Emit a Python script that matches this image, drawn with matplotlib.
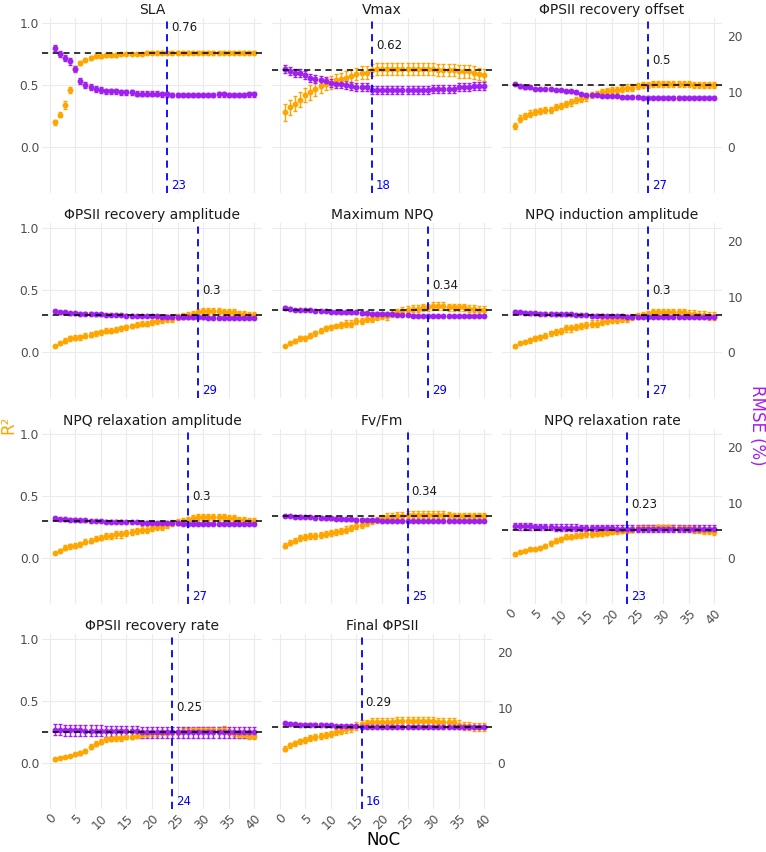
import numpy as np
import matplotlib
matplotlib.use("Agg")
import matplotlib.pyplot as plt

# facet titles, chosen NoC and reference R2 per trait
traits = ["SLA", "Vmax", "ΦPSII recovery offset",
          "ΦPSII recovery amplitude", "Maximum NPQ", "NPQ induction amplitude",
          "NPQ relaxation amplitude", "Fv/Fm", "NPQ relaxation rate",
          "ΦPSII recovery rate", "Final ΦPSII"]
best_noc = [23, 18, 27, 29, 29, 27, 27, 25, 23, 24, 16]
best_r2 = [0.76, 0.62, 0.5, 0.3, 0.34, 0.3, 0.3, 0.34, 0.23, 0.25, 0.29]

noc = list(range(1, 41))

r2_sla = [0.20, 0.26, 0.34, 0.46, 0.63, 0.68, 0.70, 0.72, 0.73, 0.73,
          0.74, 0.74, 0.74, 0.75, 0.75, 0.75, 0.75, 0.75, 0.76, 0.76,
          0.76, 0.76, 0.76, 0.76, 0.76, 0.76, 0.76, 0.76, 0.76, 0.76,
          0.76, 0.76, 0.76, 0.76, 0.76, 0.76, 0.76, 0.76, 0.76, 0.76]
r2e_sla = [0.02, 0.02, 0.03, 0.025, 0.02, 0.015, 0.015, 0.015, 0.015, 0.015,
           0.012, 0.012, 0.012, 0.012, 0.012, 0.012, 0.012, 0.012, 0.012, 0.012,
           0.012, 0.012, 0.012, 0.012, 0.012, 0.012, 0.012, 0.012, 0.012, 0.012,
           0.012, 0.012, 0.012, 0.012, 0.012, 0.012, 0.012, 0.012, 0.012, 0.012]
rmse_sla = [17.9, 16.8, 16.1, 15.5, 14.1, 11.9, 11.2, 10.8, 10.5, 10.3,
            10.1, 10.1, 10.1, 9.9, 9.9, 9.9, 9.6, 9.6, 9.6, 9.6,
            9.6, 9.5, 9.5, 9.4, 9.4, 9.4, 9.4, 9.4, 9.4, 9.4,
            9.4, 9.4, 9.5, 9.5, 9.4, 9.4, 9.4, 9.4, 9.5, 9.5]
rmsee_sla = [0.6, 0.6, 0.6, 0.6, 0.6, 0.5, 0.5, 0.5, 0.5, 0.5,
             0.45, 0.45, 0.45, 0.45, 0.45, 0.45, 0.45, 0.45, 0.45, 0.45,
             0.45, 0.45, 0.45, 0.45, 0.45, 0.45, 0.45, 0.45, 0.45, 0.45,
             0.45, 0.45, 0.45, 0.45, 0.45, 0.45, 0.45, 0.45, 0.45, 0.45]

r2_vmax = [0.28, 0.32, 0.35, 0.38, 0.42, 0.44, 0.47, 0.49, 0.51, 0.52,
           0.54, 0.55, 0.56, 0.57, 0.59, 0.60, 0.60, 0.62, 0.63, 0.63,
           0.63, 0.63, 0.63, 0.63, 0.63, 0.63, 0.63, 0.63, 0.63, 0.63,
           0.62, 0.62, 0.62, 0.62, 0.61, 0.61, 0.61, 0.60, 0.59, 0.58]
r2e_vmax = [0.07, 0.06, 0.06, 0.06, 0.06, 0.06, 0.055, 0.055, 0.05, 0.05,
            0.05, 0.05, 0.05, 0.05, 0.05, 0.05, 0.05, 0.05, 0.05, 0.05,
            0.05, 0.05, 0.05, 0.05, 0.05, 0.05, 0.05, 0.05, 0.05, 0.05,
            0.05, 0.05, 0.05, 0.05, 0.05, 0.05, 0.05, 0.05, 0.05, 0.05]
rmse_vmax = [14.1, 13.7, 13.4, 13.4, 13.0, 12.5, 12.3, 12.1, 11.9, 11.6,
             11.4, 11.4, 11.2, 11.0, 10.8, 10.8, 10.8, 10.3, 10.3, 10.3,
             10.3, 10.3, 10.3, 10.3, 10.3, 10.3, 10.3, 10.3, 10.3, 10.5,
             10.5, 10.5, 10.5, 10.5, 10.8, 10.8, 10.8, 11.0, 11.0, 11.0]
rmsee_vmax = [0.7, 0.7, 0.7, 0.7, 0.7, 0.7, 0.7, 0.7, 0.7, 0.7,
              0.7, 0.7, 0.7, 0.7, 0.7, 0.7, 0.7, 0.7, 0.7, 0.7,
              0.7, 0.7, 0.7, 0.7, 0.7, 0.7, 0.7, 0.7, 0.7, 0.7,
              0.7, 0.7, 0.7, 0.7, 0.7, 0.7, 0.7, 0.7, 0.7, 0.7]

r2_offset = [0.17, 0.23, 0.25, 0.27, 0.28, 0.29, 0.30, 0.30, 0.32, 0.33,
             0.35, 0.36, 0.38, 0.39, 0.40, 0.42, 0.43, 0.44, 0.45, 0.46,
             0.46, 0.47, 0.48, 0.48, 0.49, 0.50, 0.50, 0.51, 0.51, 0.51,
             0.51, 0.51, 0.51, 0.51, 0.51, 0.50, 0.50, 0.50, 0.50, 0.50]
r2e_offset = [0.025, 0.025, 0.025, 0.025, 0.025, 0.025, 0.025, 0.025, 0.025, 0.025,
              0.025, 0.025, 0.025, 0.025, 0.025, 0.025, 0.025, 0.025, 0.025, 0.025,
              0.025, 0.025, 0.025, 0.025, 0.025, 0.025, 0.025, 0.025, 0.025, 0.025,
              0.025, 0.025, 0.025, 0.025, 0.025, 0.025, 0.025, 0.025, 0.025, 0.025]
rmse_offset = [11.4, 11.0, 10.8, 10.8, 10.5, 10.5, 10.5, 10.5, 10.3, 10.3,
               10.1, 10.1, 9.9, 9.6, 9.4, 9.4, 9.4, 9.2, 9.2, 9.2,
               9.2, 9.0, 9.0, 9.0, 9.0, 8.9, 8.9, 8.9, 8.9, 8.9,
               8.9, 8.9, 8.9, 8.9, 8.9, 8.9, 8.9, 8.9, 8.9, 8.9]
rmsee_offset = [0.25, 0.25, 0.25, 0.25, 0.25, 0.25, 0.25, 0.25, 0.25, 0.25,
                0.25, 0.25, 0.25, 0.25, 0.25, 0.25, 0.25, 0.25, 0.25, 0.25,
                0.25, 0.25, 0.25, 0.25, 0.25, 0.25, 0.25, 0.25, 0.25, 0.25,
                0.25, 0.25, 0.25, 0.25, 0.25, 0.25, 0.25, 0.25, 0.25, 0.25]

r2_recamp = [0.05, 0.07, 0.09, 0.11, 0.115, 0.12, 0.13, 0.14, 0.15, 0.16,
             0.17, 0.17, 0.18, 0.19, 0.20, 0.21, 0.22, 0.23, 0.23, 0.24,
             0.25, 0.26, 0.27, 0.27, 0.28, 0.29, 0.30, 0.31, 0.32, 0.33,
             0.33, 0.33, 0.33, 0.32, 0.32, 0.32, 0.31, 0.31, 0.30, 0.30]
r2e_recamp = [0.01, 0.015, 0.02, 0.02, 0.02, 0.02, 0.02, 0.02, 0.02, 0.02,
              0.02, 0.02, 0.02, 0.02, 0.02, 0.02, 0.02, 0.02, 0.02, 0.02,
              0.025, 0.025, 0.025, 0.025, 0.025, 0.025, 0.025, 0.025, 0.025, 0.025,
              0.025, 0.025, 0.025, 0.025, 0.025, 0.025, 0.025, 0.025, 0.025, 0.025]
rmse_recamp = [7.4, 7.2, 7.2, 7.0, 7.0, 6.9, 6.9, 6.9, 6.8, 6.8,
               6.7, 6.7, 6.7, 6.7, 6.6, 6.6, 6.5, 6.5, 6.5, 6.5,
               6.5, 6.4, 6.4, 6.4, 6.3, 6.3, 6.3, 6.3, 6.3, 6.3,
               6.2, 6.2, 6.2, 6.2, 6.2, 6.2, 6.2, 6.2, 6.2, 6.2]
rmsee_recamp = [0.25, 0.25, 0.25, 0.25, 0.25, 0.25, 0.25, 0.25, 0.25, 0.25,
                0.25, 0.25, 0.25, 0.25, 0.25, 0.25, 0.25, 0.25, 0.25, 0.25,
                0.25, 0.25, 0.25, 0.25, 0.25, 0.25, 0.25, 0.25, 0.25, 0.25,
                0.25, 0.25, 0.25, 0.25, 0.25, 0.25, 0.25, 0.25, 0.25, 0.25]

r2_maxnpq = [0.05, 0.07, 0.09, 0.11, 0.11, 0.13, 0.15, 0.17, 0.19, 0.20,
             0.21, 0.22, 0.23, 0.23, 0.25, 0.25, 0.27, 0.27, 0.28, 0.29,
             0.29, 0.31, 0.32, 0.33, 0.34, 0.35, 0.35, 0.36, 0.36, 0.37,
             0.37, 0.37, 0.36, 0.36, 0.36, 0.36, 0.35, 0.35, 0.34, 0.34]
r2e_maxnpq = [0.01, 0.015, 0.015, 0.02, 0.02, 0.02, 0.02, 0.02, 0.02, 0.02,
              0.02, 0.025, 0.025, 0.025, 0.025, 0.025, 0.025, 0.025, 0.025, 0.025,
              0.03, 0.03, 0.03, 0.03, 0.03, 0.03, 0.03, 0.03, 0.03, 0.03,
              0.03, 0.03, 0.03, 0.03, 0.03, 0.03, 0.03, 0.03, 0.03, 0.03]
rmse_maxnpq = [8.0, 7.8, 7.6, 7.6, 7.6, 7.6, 7.4, 7.4, 7.4, 7.3,
               7.3, 7.2, 7.2, 7.2, 7.2, 7.0, 7.0, 6.9, 6.9, 6.9,
               6.8, 6.8, 6.7, 6.7, 6.7, 6.6, 6.5, 6.5, 6.5, 6.5,
               6.5, 6.5, 6.5, 6.5, 6.5, 6.5, 6.5, 6.5, 6.5, 6.5]
rmsee_maxnpq = [0.25, 0.25, 0.25, 0.25, 0.25, 0.25, 0.25, 0.25, 0.25, 0.25,
                0.25, 0.25, 0.25, 0.25, 0.25, 0.25, 0.25, 0.25, 0.25, 0.25,
                0.25, 0.25, 0.25, 0.25, 0.25, 0.25, 0.25, 0.25, 0.25, 0.25,
                0.25, 0.25, 0.25, 0.25, 0.25, 0.25, 0.25, 0.25, 0.25, 0.25]

r2_indamp = [0.045, 0.07, 0.085, 0.095, 0.11, 0.12, 0.13, 0.15, 0.16, 0.17,
             0.19, 0.19, 0.20, 0.21, 0.22, 0.23, 0.23, 0.24, 0.25, 0.26,
             0.26, 0.27, 0.27, 0.28, 0.29, 0.30, 0.31, 0.32, 0.32, 0.32,
             0.32, 0.32, 0.32, 0.32, 0.31, 0.31, 0.30, 0.30, 0.29, 0.29]
r2e_indamp = [0.01, 0.015, 0.015, 0.02, 0.02, 0.02, 0.02, 0.02, 0.025, 0.025,
              0.025, 0.025, 0.025, 0.025, 0.025, 0.025, 0.025, 0.025, 0.025, 0.025,
              0.025, 0.025, 0.025, 0.025, 0.025, 0.025, 0.025, 0.03, 0.03, 0.03,
              0.03, 0.03, 0.03, 0.03, 0.03, 0.03, 0.03, 0.03, 0.03, 0.03]
rmse_indamp = [7.3, 7.2, 7.1, 7.0, 7.0, 6.9, 6.9, 6.9, 6.8, 6.8,
               6.8, 6.8, 6.7, 6.7, 6.7, 6.6, 6.6, 6.6, 6.5, 6.5,
               6.5, 6.5, 6.4, 6.4, 6.4, 6.4, 6.4, 6.4, 6.4, 6.4,
               6.4, 6.4, 6.4, 6.4, 6.4, 6.4, 6.4, 6.4, 6.4, 6.4]
rmsee_indamp = [0.25, 0.25, 0.25, 0.25, 0.25, 0.25, 0.25, 0.25, 0.25, 0.25,
                0.25, 0.25, 0.25, 0.25, 0.25, 0.25, 0.25, 0.25, 0.25, 0.25,
                0.25, 0.25, 0.25, 0.25, 0.25, 0.25, 0.25, 0.25, 0.25, 0.25,
                0.25, 0.25, 0.25, 0.25, 0.25, 0.25, 0.25, 0.25, 0.25, 0.25]

r2_relamp = [0.04, 0.06, 0.085, 0.095, 0.10, 0.11, 0.13, 0.14, 0.155, 0.165,
             0.18, 0.18, 0.19, 0.19, 0.20, 0.21, 0.22, 0.23, 0.23, 0.24,
             0.25, 0.25, 0.27, 0.28, 0.29, 0.30, 0.31, 0.32, 0.33, 0.33,
             0.33, 0.33, 0.33, 0.33, 0.32, 0.32, 0.31, 0.31, 0.30, 0.30]
r2e_relamp = [0.01, 0.015, 0.02, 0.02, 0.02, 0.02, 0.02, 0.02, 0.02, 0.02,
              0.025, 0.025, 0.025, 0.025, 0.025, 0.025, 0.025, 0.025, 0.025, 0.025,
              0.025, 0.025, 0.025, 0.025, 0.025, 0.025, 0.025, 0.025, 0.025, 0.025,
              0.025, 0.025, 0.025, 0.025, 0.025, 0.025, 0.025, 0.025, 0.025, 0.025]
rmse_relamp = [7.2, 7.0, 7.0, 6.9, 6.9, 6.8, 6.8, 6.7, 6.7, 6.7,
               6.6, 6.6, 6.6, 6.6, 6.5, 6.5, 6.5, 6.4, 6.4, 6.4,
               6.3, 6.3, 6.3, 6.3, 6.3, 6.2, 6.2, 6.2, 6.2, 6.2,
               6.2, 6.2, 6.2, 6.2, 6.2, 6.2, 6.2, 6.2, 6.2, 6.2]
rmsee_relamp = [0.25, 0.25, 0.25, 0.25, 0.25, 0.25, 0.25, 0.25, 0.25, 0.25,
                0.25, 0.25, 0.25, 0.25, 0.25, 0.25, 0.25, 0.25, 0.25, 0.25,
                0.25, 0.25, 0.25, 0.25, 0.25, 0.25, 0.25, 0.25, 0.25, 0.25,
                0.25, 0.25, 0.25, 0.25, 0.25, 0.25, 0.25, 0.25, 0.25, 0.25]

r2_fvfm = [0.10, 0.125, 0.14, 0.16, 0.17, 0.175, 0.18, 0.185, 0.195, 0.205,
           0.21, 0.22, 0.23, 0.24, 0.26, 0.27, 0.28, 0.30, 0.31, 0.32,
           0.33, 0.33, 0.34, 0.34, 0.35, 0.35, 0.35, 0.35, 0.35, 0.35,
           0.35, 0.35, 0.35, 0.34, 0.34, 0.34, 0.34, 0.34, 0.34, 0.34]
r2e_fvfm = [0.02, 0.02, 0.02, 0.025, 0.025, 0.025, 0.025, 0.025, 0.025, 0.025,
            0.025, 0.025, 0.025, 0.025, 0.025, 0.025, 0.025, 0.025, 0.025, 0.025,
            0.03, 0.03, 0.03, 0.03, 0.03, 0.03, 0.03, 0.03, 0.03, 0.03,
            0.03, 0.03, 0.025, 0.025, 0.025, 0.025, 0.025, 0.025, 0.025, 0.025]
rmse_fvfm = [7.6, 7.6, 7.5, 7.5, 7.4, 7.4, 7.3, 7.3, 7.2, 7.2,
             7.1, 7.1, 7.0, 7.0, 6.9, 6.9, 6.8, 6.8, 6.8, 6.7,
             6.7, 6.7, 6.7, 6.7, 6.7, 6.7, 6.7, 6.7, 6.7, 6.7,
             6.7, 6.7, 6.7, 6.7, 6.7, 6.7, 6.7, 6.7, 6.7, 6.7]
rmsee_fvfm = [0.25, 0.25, 0.25, 0.25, 0.25, 0.25, 0.25, 0.25, 0.25, 0.25,
              0.25, 0.25, 0.25, 0.25, 0.25, 0.25, 0.25, 0.25, 0.25, 0.25,
              0.25, 0.25, 0.25, 0.25, 0.25, 0.25, 0.25, 0.25, 0.25, 0.25,
              0.25, 0.25, 0.25, 0.25, 0.25, 0.25, 0.25, 0.25, 0.25, 0.25]

r2_relrate = [0.03, 0.05, 0.06, 0.07, 0.07, 0.08, 0.10, 0.12, 0.14, 0.15,
              0.17, 0.17, 0.18, 0.185, 0.19, 0.19, 0.195, 0.20, 0.205, 0.21,
              0.215, 0.22, 0.225, 0.23, 0.24, 0.245, 0.245, 0.245, 0.25, 0.25,
              0.25, 0.245, 0.245, 0.24, 0.24, 0.23, 0.23, 0.22, 0.22, 0.21]
r2e_relrate = [0.01, 0.01, 0.015, 0.015, 0.015, 0.015, 0.015, 0.02, 0.02, 0.02,
               0.02, 0.02, 0.02, 0.02, 0.02, 0.02, 0.02, 0.02, 0.02, 0.02,
               0.02, 0.02, 0.02, 0.02, 0.02, 0.02, 0.02, 0.02, 0.02, 0.02,
               0.02, 0.02, 0.02, 0.02, 0.02, 0.025, 0.025, 0.025, 0.025, 0.025]
rmse_relrate = [5.8, 5.7, 5.7, 5.7, 5.6, 5.6, 5.6, 5.6, 5.5, 5.5,
                5.5, 5.5, 5.5, 5.4, 5.4, 5.4, 5.4, 5.4, 5.4, 5.4,
                5.3, 5.3, 5.3, 5.3, 5.3, 5.3, 5.3, 5.3, 5.3, 5.3,
                5.3, 5.3, 5.3, 5.3, 5.3, 5.3, 5.3, 5.3, 5.3, 5.3]
rmsee_relrate = [0.6, 0.6, 0.6, 0.6, 0.6, 0.6, 0.6, 0.6, 0.6, 0.6,
                 0.6, 0.6, 0.6, 0.6, 0.6, 0.6, 0.6, 0.6, 0.6, 0.6,
                 0.6, 0.6, 0.6, 0.6, 0.6, 0.6, 0.6, 0.6, 0.6, 0.6,
                 0.6, 0.6, 0.6, 0.6, 0.6, 0.6, 0.6, 0.6, 0.6, 0.6]

r2_recrate = [0.03, 0.04, 0.05, 0.055, 0.07, 0.08, 0.10, 0.13, 0.155, 0.17,
              0.19, 0.195, 0.20, 0.20, 0.21, 0.21, 0.22, 0.225, 0.235, 0.24,
              0.24, 0.245, 0.245, 0.25, 0.25, 0.26, 0.26, 0.265, 0.27, 0.27,
              0.27, 0.27, 0.27, 0.27, 0.25, 0.24, 0.23, 0.23, 0.22, 0.22]
r2e_recrate = [0.01, 0.01, 0.01, 0.01, 0.015, 0.015, 0.015, 0.02, 0.02, 0.02,
               0.02, 0.02, 0.02, 0.02, 0.02, 0.02, 0.02, 0.02, 0.02, 0.02,
               0.02, 0.02, 0.02, 0.02, 0.02, 0.02, 0.02, 0.02, 0.02, 0.02,
               0.02, 0.02, 0.02, 0.025, 0.025, 0.025, 0.025, 0.025, 0.025, 0.03]
rmse_recrate = [6.0, 6.0, 5.9, 5.9, 5.9, 5.9, 5.8, 5.8, 5.8, 5.8,
                5.7, 5.7, 5.7, 5.7, 5.7, 5.7, 5.7, 5.6, 5.6, 5.6,
                5.6, 5.6, 5.6, 5.6, 5.6, 5.6, 5.6, 5.6, 5.6, 5.6,
                5.6, 5.6, 5.6, 5.6, 5.6, 5.6, 5.6, 5.6, 5.6, 5.6]
rmsee_recrate = [1.0, 1.0, 1.0, 1.0, 1.0, 1.0, 1.0, 1.0, 1.0, 1.0,
                 1.0, 1.0, 1.0, 1.0, 1.0, 1.0, 1.0, 1.0, 1.0, 1.0,
                 1.0, 1.0, 1.0, 1.0, 1.0, 1.0, 1.0, 1.0, 1.0, 1.0,
                 1.0, 1.0, 1.0, 1.0, 1.0, 1.0, 1.0, 1.0, 1.0, 1.0]

r2_final = [0.115, 0.145, 0.16, 0.175, 0.185, 0.20, 0.21, 0.215, 0.225, 0.235,
            0.25, 0.26, 0.275, 0.28, 0.30, 0.315, 0.32, 0.33, 0.33, 0.33,
            0.33, 0.33, 0.34, 0.34, 0.34, 0.34, 0.34, 0.34, 0.34, 0.34,
            0.33, 0.33, 0.33, 0.33, 0.31, 0.30, 0.30, 0.29, 0.29, 0.29]
r2e_final = [0.02, 0.02, 0.02, 0.02, 0.025, 0.025, 0.025, 0.025, 0.025, 0.025,
             0.025, 0.025, 0.03, 0.03, 0.03, 0.03, 0.03, 0.03, 0.03, 0.03,
             0.035, 0.035, 0.035, 0.035, 0.035, 0.035, 0.035, 0.035, 0.035, 0.035,
             0.035, 0.035, 0.035, 0.035, 0.035, 0.035, 0.035, 0.035, 0.035, 0.035]
rmse_final = [7.2, 7.1, 7.0, 6.9, 6.9, 6.9, 6.9, 6.9, 6.8, 6.8,
              6.7, 6.7, 6.7, 6.7, 6.7, 6.5, 6.5, 6.5, 6.5, 6.5,
              6.5, 6.5, 6.5, 6.5, 6.5, 6.5, 6.5, 6.5, 6.5, 6.5,
              6.5, 6.5, 6.5, 6.5, 6.5, 6.5, 6.5, 6.5, 6.5, 6.5]
rmsee_final = [0.25, 0.25, 0.25, 0.25, 0.25, 0.25, 0.25, 0.25, 0.25, 0.25,
               0.25, 0.25, 0.25, 0.25, 0.25, 0.25, 0.25, 0.25, 0.25, 0.25,
               0.25, 0.25, 0.25, 0.25, 0.25, 0.25, 0.25, 0.25, 0.25, 0.25,
               0.25, 0.25, 0.25, 0.25, 0.25, 0.25, 0.25, 0.25, 0.25, 0.25]

r2_all = [r2_sla, r2_vmax, r2_offset, r2_recamp, r2_maxnpq, r2_indamp,
          r2_relamp, r2_fvfm, r2_relrate, r2_recrate, r2_final]
r2e_all = [r2e_sla, r2e_vmax, r2e_offset, r2e_recamp, r2e_maxnpq, r2e_indamp,
           r2e_relamp, r2e_fvfm, r2e_relrate, r2e_recrate, r2e_final]
rmse_all = [rmse_sla, rmse_vmax, rmse_offset, rmse_recamp, rmse_maxnpq,
            rmse_indamp, rmse_relamp, rmse_fvfm, rmse_relrate, rmse_recrate,
            rmse_final]
rmsee_all = [rmsee_sla, rmsee_vmax, rmsee_offset, rmsee_recamp, rmsee_maxnpq,
             rmsee_indamp, rmsee_relamp, rmsee_fvfm, rmsee_relrate,
             rmsee_recrate, rmsee_final]

# secondary axis: RMSE (%) = R2 * scale
scale = 22.4

ORANGE = "#FFA500"
PURPLE = "#A020F0"
GRID = "#EBEBEB"
TICK = "#4D4D4D"

W, H = 766, 852
fig = plt.figure(figsize=(W / 100, H / 100), dpi=100)

col_left = [42, 272, 502]
row_top = [18, 223, 429, 634]
pw, ph = 220, 175

for i, name in enumerate(traits):
    r, c = divmod(i, 3)
    ax = fig.add_axes([col_left[c] / W, 1 - (row_top[r] + ph) / H, pw / W, ph / H])
    ax.set_xlim(-1.5, 41.5)
    ax.set_ylim(-0.37, 1.04)
    for s in ax.spines.values():
        s.set_visible(False)
    ax.set_xticks(range(0, 41, 5))
    ax.set_yticks([0.0, 0.5, 1.0])
    ax.grid(True, color=GRID, lw=0.8, zorder=0)
    ax.set_axisbelow(True)
    ax.tick_params(length=0, colors=TICK, labelsize=8.8, pad=2)

    last_in_col = (i + 3) >= len(traits)
    if last_in_col:
        ax.set_xticklabels([str(v) for v in range(0, 41, 5)], rotation=45,
                           ha="right", va="top", rotation_mode="anchor")
    else:
        ax.set_xticklabels([])
    if c == 0:
        ax.set_yticklabels(["0.0", "0.5", "1.0"])
    else:
        ax.set_yticklabels([])

    r2 = np.array(r2_all[i])
    rm = np.array(rmse_all[i]) / scale
    ax.errorbar(noc, r2, yerr=r2e_all[i], fmt="o", color=ORANGE, ms=3.2,
                elinewidth=1.0, capsize=1.6, capthick=1.0, zorder=3)
    ax.errorbar(noc, rm, yerr=np.array(rmsee_all[i]) / scale, fmt="o",
                color=PURPLE, ms=3.2, elinewidth=1.0, capsize=1.6,
                capthick=1.0, zorder=3)
    ax.axhline(best_r2[i], color="black", ls=(0, (4, 3)), lw=1.1, zorder=4)
    ax.axvline(best_noc[i], color="blue", ls=(0, (4, 3)), lw=1.3, zorder=4)
    ax.text(best_noc[i] + 0.8, best_r2[i] + 0.2, f"{best_r2[i]:g}",
            ha="left", va="center", fontsize=8.5, color="#1A1A1A", zorder=5)
    ax.text(best_noc[i] + 0.8, -0.31, str(best_noc[i]), ha="left",
            va="center", fontsize=8.5, color="blue", zorder=5)
    ax.set_title(name, fontsize=10, color="#1A1A1A", pad=3)

    last_in_row = (c == 2) or (i == len(traits) - 1)
    if last_in_row:
        sec = ax.secondary_yaxis("right", functions=(lambda y: y * scale,
                                                     lambda y: y / scale))
        sec.set_yticks([0, 10, 20])
        sec.tick_params(length=0, colors=TICK, labelsize=8.8, pad=4)
        for s in sec.spines.values():
            s.set_visible(False)

fig.text(8 / W, 1 - 425 / H, "R²", rotation=90, color=ORANGE, fontsize=12,
         ha="center", va="center")
fig.text(757 / W, 1 - 425 / H, "RMSE (%)", rotation=-90, color=PURPLE,
         fontsize=12, ha="center", va="center")
fig.text(383 / W, 1 - 840 / H, "NoC", color="black", fontsize=12,
         ha="center", va="center")

fig.savefig("out.png", dpi=100, facecolor="white")
